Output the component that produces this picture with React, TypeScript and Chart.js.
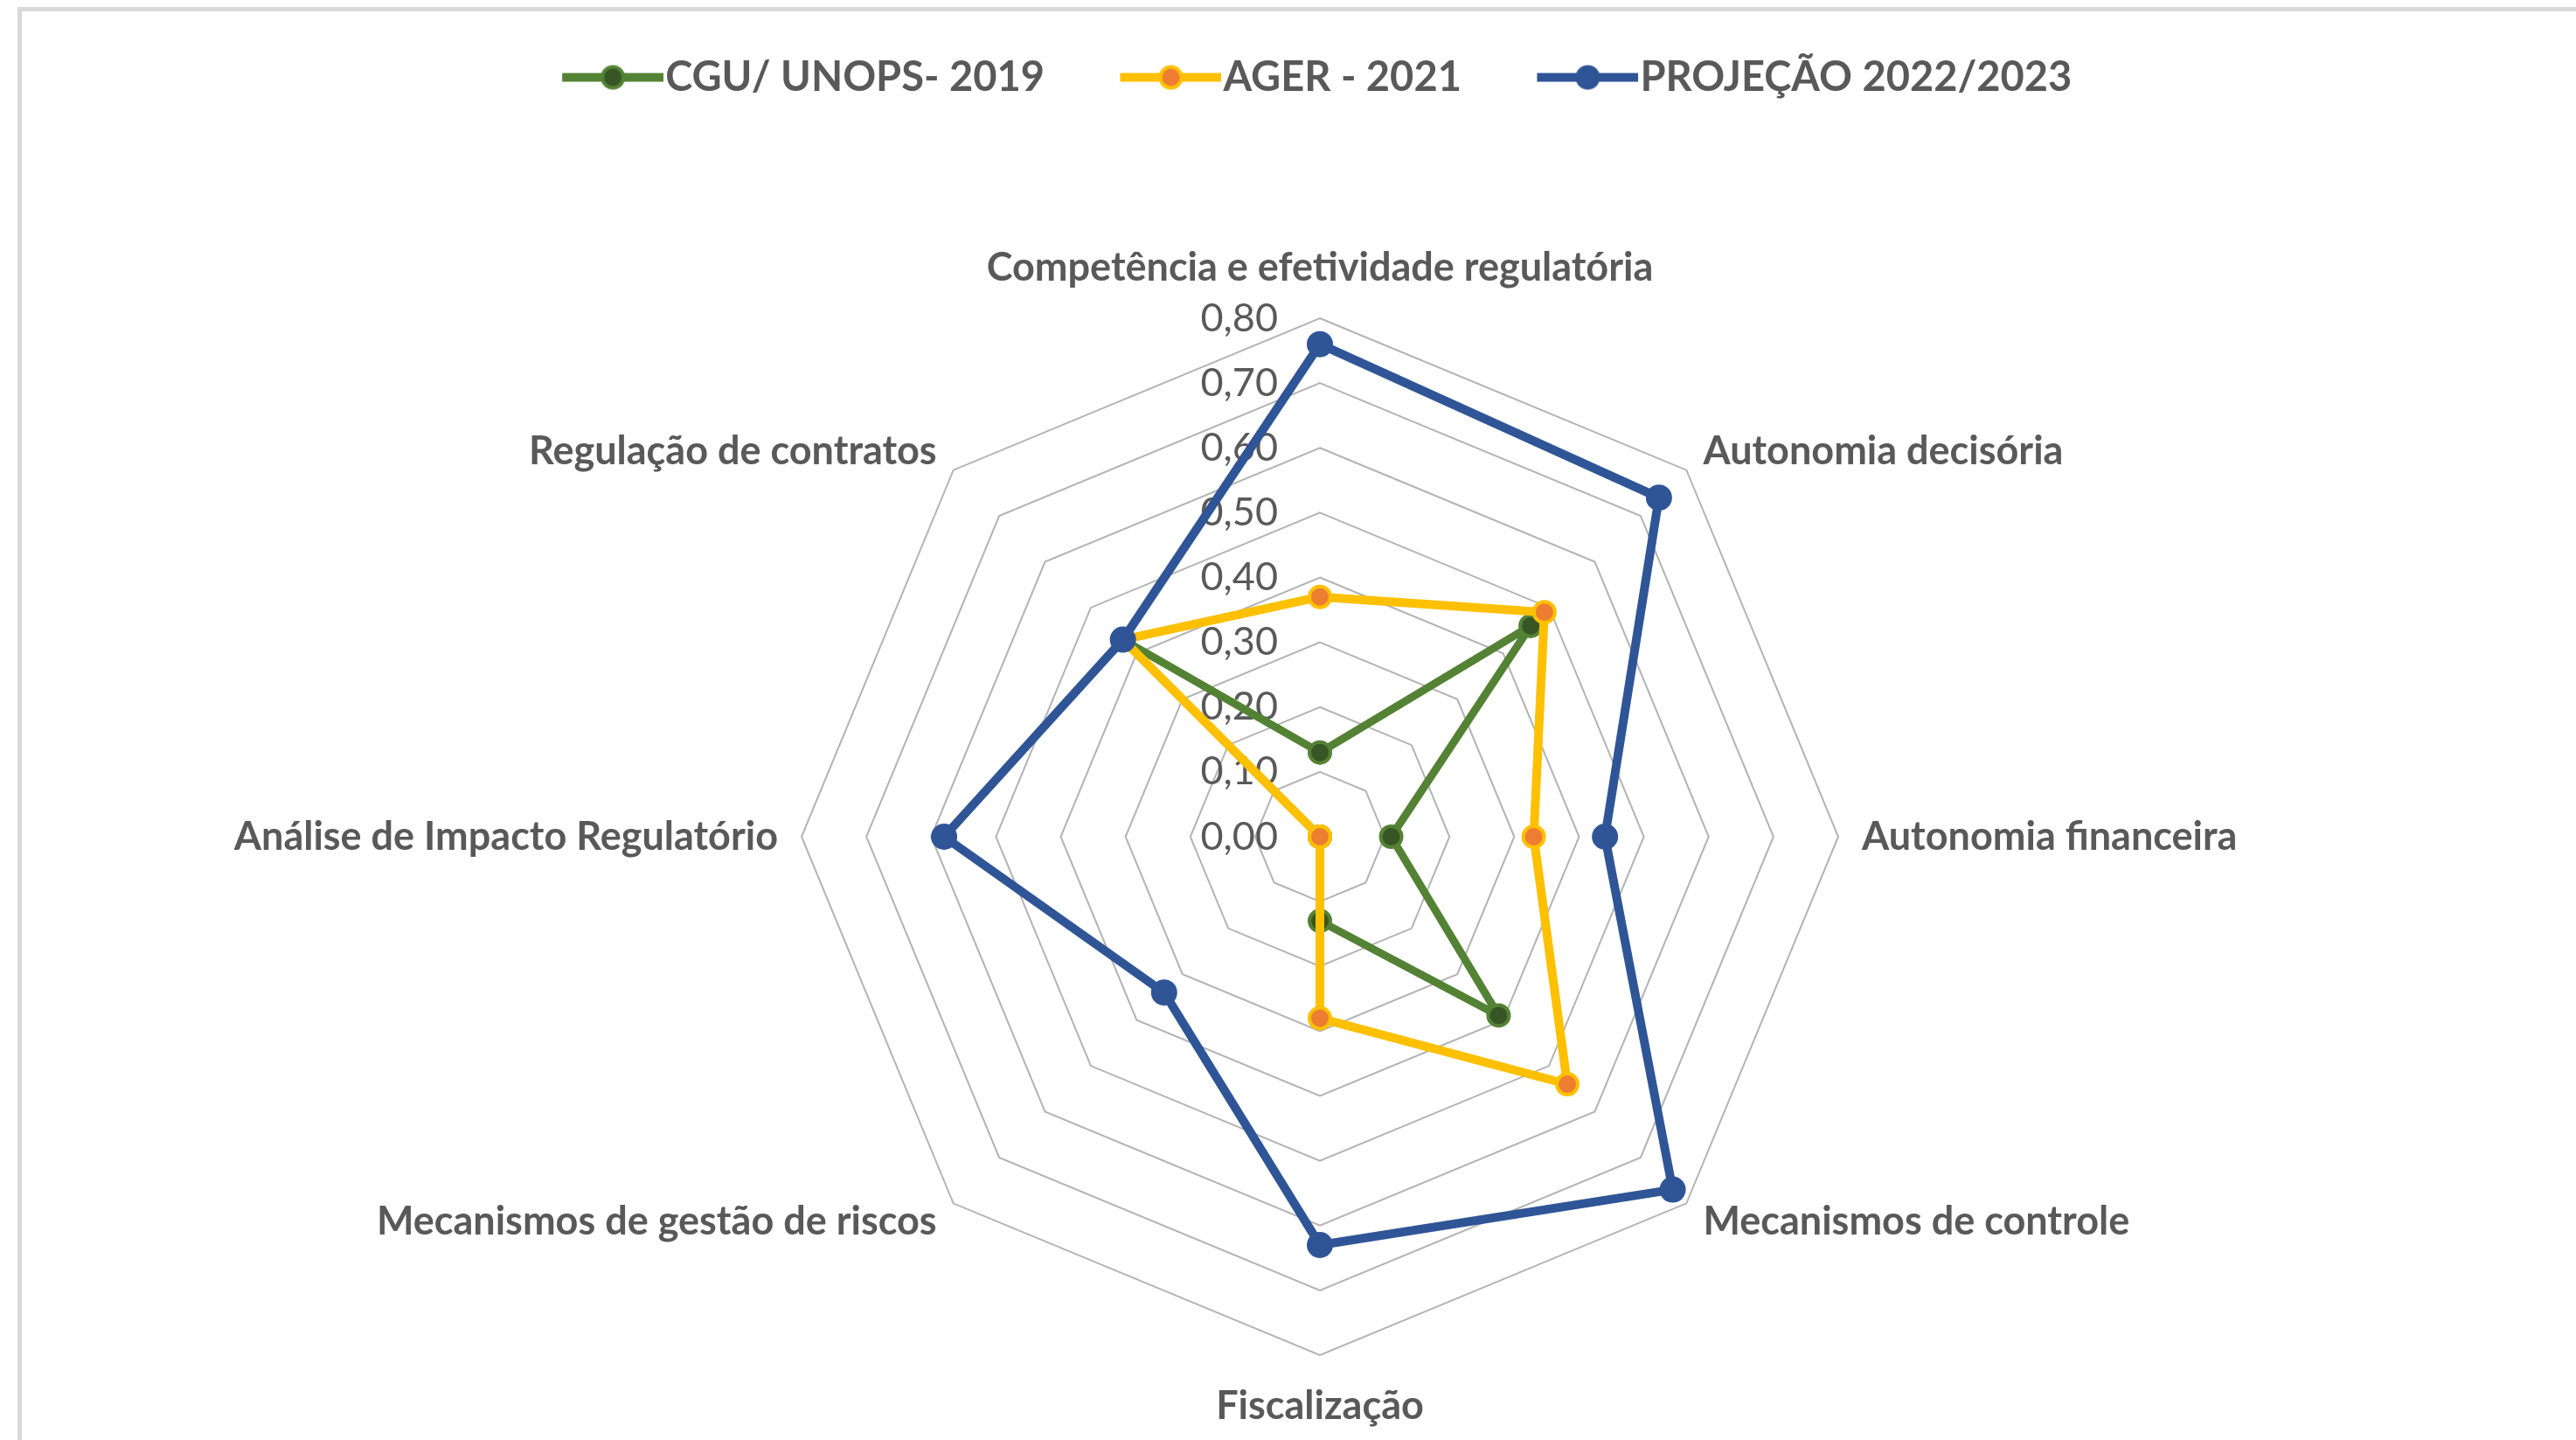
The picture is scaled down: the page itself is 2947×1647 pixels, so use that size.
import React, { useEffect, useRef } from 'react';
import { Chart, registerables } from 'chart.js';

Chart.register(...registerables);

// ---------- data ----------
const CATEGORIES = [
  'Competência e efetividade regulatória',
  'Autonomia decisória',
  'Autonomia financeira',
  'Mecanismos de controle',
  'Fiscalização',
  'Mecanismos de gestão de riscos',
  'Análise de Impacto Regulatório',
  'Regulação de contratos',
];
const SERIES_NAMES = ['CGU/ UNOPS- 2019', 'AGER - 2021', 'PROJEÇÃO 2022/2023'];
const CGU_2019 = [0.13, 0.46, 0.11, 0.39, 0.13, 0, 0, 0.43];
const AGER_2021 = [0.37, 0.49, 0.33, 0.54, 0.28, 0, 0, 0.43];
const PROJECAO_2022_2023 = [0.76, 0.74, 0.44, 0.77, 0.63, 0.34, 0.58, 0.43];
const TICK_LABELS = ['0,00', '0,10', '0,20', '0,30', '0,40', '0,50', '0,60', '0,70', '0,80'];

// ---------- styles ----------
const TEXT_COLOR = '#595959';
const FONT = 'Lato';
const GREEN = { line: '#548235', fill: '#375623', border: '#548235' };
const YELLOW = { line: '#FFC000', fill: '#ED7D31', border: '#FFC000' };
const BLUE = { line: '#2F5597', fill: '#2F5597', border: '#2F5597' };
const LEGEND_BLOCK = 332;
const LEGEND_FONT = 47;
const LEGEND_BOX = 88;
const LEGEND_PAD = 93;

function makeLegendMarker(c: { line: string; fill: string; border: string }) {
  const cv = document.createElement('canvas');
  const w = LEGEND_BOX + 43;
  cv.width = w;
  cv.height = 36;
  const g = cv.getContext('2d')!;
  const start = w - 116;
  g.strokeStyle = c.line;
  g.lineWidth = 10;
  g.beginPath();
  g.moveTo(start, 18);
  g.lineTo(w, 18);
  g.stroke();
  g.beginPath();
  g.arc(start + 58, 18, 12, 0, Math.PI * 2);
  g.fillStyle = c.fill;
  g.fill();
  g.lineWidth = 4;
  g.strokeStyle = c.border;
  g.stroke();
  return cv;
}

const legendSpacer = {
  id: 'legendSpacer',
  beforeLayout(chart: any) {
    const lg = chart.legend;
    if (lg && !lg._spacerPatched) {
      const orig = lg.fit.bind(lg);
      lg.fit = function () {
        orig();
        this.height = LEGEND_BLOCK;
      };
      lg._spacerPatched = true;
    }
  },
};

const tickLabelPlugin = {
  id: 'tickLabelPlugin',
  beforeDatasetsDraw(chart: any) {
    const scale = chart.scales.r;
    const ctx = chart.ctx;
    ctx.save();
    ctx.font = `normal 45px ${FONT}`;
    ctx.fillStyle = TEXT_COLOR;
    ctx.textAlign = 'right';
    ctx.textBaseline = 'middle';
    scale.ticks.forEach((t: any, i: number) => {
      const d = scale.getDistanceFromCenterForValue(t.value);
      const label = TICK_LABELS[i] ?? '';
      ctx.fillText(label, scale.xCenter - 48, scale.yCenter - d);
    });
    ctx.restore();
  },
};

export default function App() {
  const ref = useRef<HTMLCanvasElement>(null);

  useEffect(() => {
    const colors = [GREEN, YELLOW, BLUE];
    const markers = colors.map(makeLegendMarker);
    const series = [CGU_2019, AGER_2021, PROJECAO_2022_2023];
    const orders = [3, 2, 1];
    const widths = [9, 10, 10];
    const radii = [12, 12, 13];

    const chart = new Chart(ref.current!, {
      type: 'radar',
      data: {
        labels: CATEGORIES,
        datasets: series.map((d, i) => ({
          label: SERIES_NAMES[i],
          data: d,
          order: orders[i],
          borderColor: colors[i].line,
          backgroundColor: colors[i].line,
          borderWidth: widths[i],
          borderJoinStyle: 'round',
          borderCapStyle: 'round',
          fill: false,
          tension: 0,
          pointStyle: 'circle',
          pointRadius: radii[i],
          pointBorderWidth: 4,
          pointBackgroundColor: colors[i].fill,
          pointBorderColor: colors[i].border,
          pointHoverRadius: radii[i],
        })),
      },
      options: {
        responsive: false,
        maintainAspectRatio: false,
        animation: false,
        layout: { padding: { top: 0, left: 0, right: 0, bottom: 60 } },
        plugins: {
          tooltip: { enabled: false },
          legend: {
            position: 'top',
            labels: {
              usePointStyle: true,
              pointStyleWidth: LEGEND_BOX,
              padding: LEGEND_PAD,
              color: TEXT_COLOR,
              font: { family: FONT, size: LEGEND_FONT, weight: 'bold' },
              generateLabels: (ch: any) => {
                const items = Chart.defaults.plugins.legend.labels.generateLabels(ch);
                return items
                  .sort((a: any, b: any) => a.datasetIndex - b.datasetIndex)
                  .map((it: any) => ({ ...it, pointStyle: markers[it.datasetIndex] }));
              },
            },
          },
        },
        scales: {
          r: {
            min: 0,
            max: 0.8,
            ticks: { display: false, stepSize: 0.1 },
            grid: { color: '#b3b3b3', lineWidth: 2 },
            angleLines: { display: false },
            pointLabels: {
              color: TEXT_COLOR,
              font: { family: FONT, size: 45, weight: 'bold', lineHeight: '4px' },
              padding: (c: any) => (c.index % 4 === 0 ? 56 : 27),
            },
          },
        },
      },
      plugins: [legendSpacer, tickLabelPlugin],
    } as any);
    return () => chart.destroy();
  }, []);

  return (
    <div
      style={{
        position: 'fixed',
        left: 0,
        top: 0,
        width: 2947,
        height: 1647,
        overflow: 'hidden',
        background: '#ffffff',
      }}
    >
      <div
        style={{
          position: 'absolute',
          left: 20,
          top: 8,
          width: 3100,
          height: 1800,
          border: '5px solid #d9d9d9',
        }}
      />
      <canvas
        ref={ref}
        width={2800}
        height={1699}
        style={{ position: 'absolute', left: 110, top: -28, width: 2800, height: 1699 }}
      />
    </div>
  );
}
